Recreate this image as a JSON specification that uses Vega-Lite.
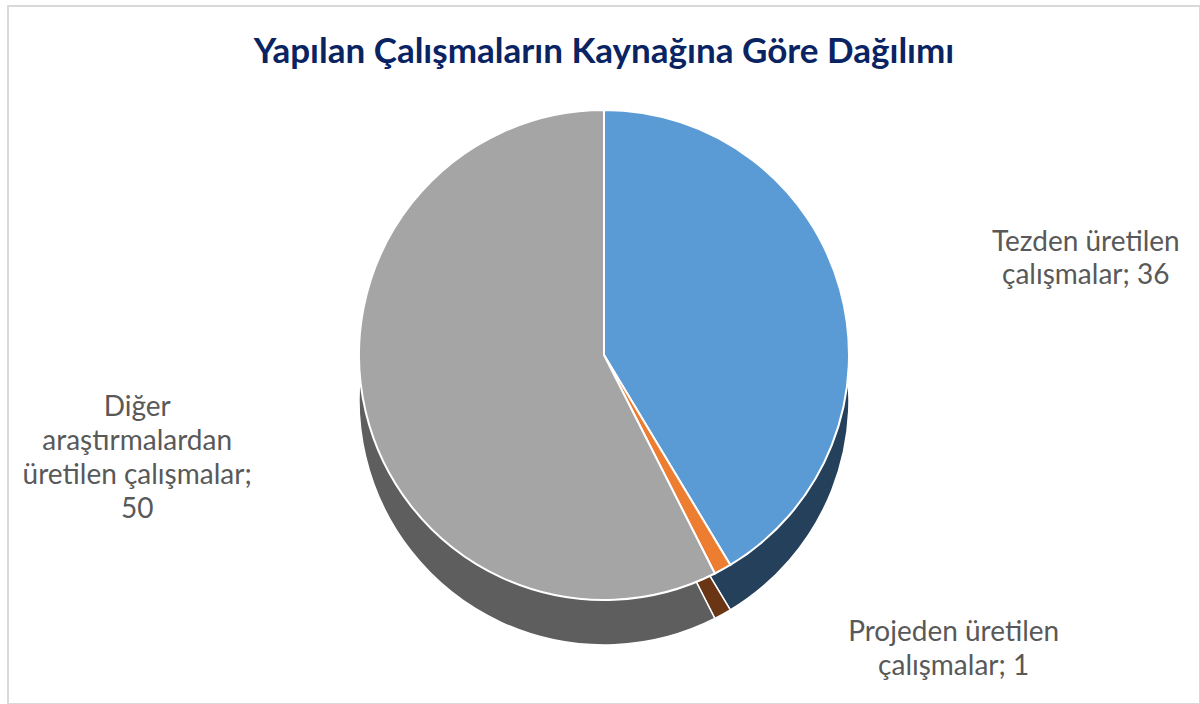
{
  "$schema": "https://vega.github.io/schema/vega-lite/v6.json",
  "width": 1192,
  "height": 698,
  "autosize": {"type": "none"},
  "padding": {"left": 8, "top": 6, "right": 0, "bottom": 0},
  "background": "white",
  "view": {"stroke": "#d9d9d9", "strokeWidth": 2},
  "config": {"font": "Lato"},
  "title": {
    "text": "Yapılan Çalışmaların Kaynağına Göre Dağılımı",
    "fontSize": 35,
    "font": "Lato",
    "fontWeight": "bold",
    "color": "#0A2463",
    "anchor": "middle",
    "offset": -92,
    "baseline": "alphabetic"
  },
  "data": {
    "values": [
      {"kaynak": "Tezden üretilen çalışmalar", "deger": 36, "sira": 1, "etiket": "Tezden üretilen\nçalışmalar; 36"},
      {"kaynak": "Projeden üretilen çalışmalar", "deger": 1, "sira": 2, "etiket": "Projeden üretilen\nçalışmalar; 1"},
      {"kaynak": "Diğer araştırmalardan üretilen çalışmalar", "deger": 50, "sira": 3, "etiket": "Diğer\naraştırmalardan\nüretilen çalışmalar;\n50"}
    ]
  },
  "encoding": {
    "theta": {"field": "deger", "type": "quantitative", "stack": true},
    "order": {"field": "sira", "type": "quantitative"}
  },
  "layer": [
    {
      "mark": {"type": "arc", "radius": 245, "yOffset": 45, "stroke": "white", "strokeWidth": 1.5},
      "encoding": {
        "color": {
          "field": "kaynak", "type": "nominal", "legend": null,
          "scale": {
            "domain": ["Tezden üretilen çalışmalar", "Projeden üretilen çalışmalar", "Diğer araştırmalardan üretilen çalışmalar"],
            "range": ["#25405A", "#6A3515", "#5E5E5E"]
          }
        }
      }
    },
    {
      "mark": {"type": "arc", "radius": 245, "stroke": "white", "strokeWidth": 2},
      "encoding": {
        "color": {
          "field": "kaynak", "type": "nominal", "legend": null,
          "scale": {
            "domain": ["Tezden üretilen çalışmalar", "Projeden üretilen çalışmalar", "Diğer araştırmalardan üretilen çalışmalar"],
            "range": ["#5B9BD5", "#ED7D31", "#A5A5A5"]
          }
        }
      }
    },
    {
      "mark": {"type": "text", "radius": 500, "dy": 22, "fontSize": 28, "lineHeight": 33, "color": "#595959", "align": "center", "baseline": "middle", "lineBreak": "\n", "font": "Lato"},
      "encoding": {
        "text": {"field": "etiket"},
        "opacity": {"condition": {"test": "datum.sira === 1", "value": 1}, "value": 0}
      }
    },
    {
      "mark": {"type": "text", "radius": 340, "dx": 185, "dy": -19, "fontSize": 28, "lineHeight": 34, "color": "#595959", "align": "center", "baseline": "middle", "lineBreak": "\n", "font": "Lato"},
      "encoding": {
        "text": {"field": "etiket"},
        "opacity": {"condition": {"test": "datum.sira === 2", "value": 1}, "value": 0}
      }
    },
    {
      "mark": {"type": "text", "radius": 480, "dy": -59, "fontSize": 28, "lineHeight": 34, "color": "#595959", "align": "center", "baseline": "middle", "lineBreak": "\n", "font": "Lato"},
      "encoding": {
        "text": {"field": "etiket"},
        "opacity": {"condition": {"test": "datum.sira === 3", "value": 1}, "value": 0}
      }
    }
  ],
  "resolve": {"scale": {"color": "independent"}}
}
